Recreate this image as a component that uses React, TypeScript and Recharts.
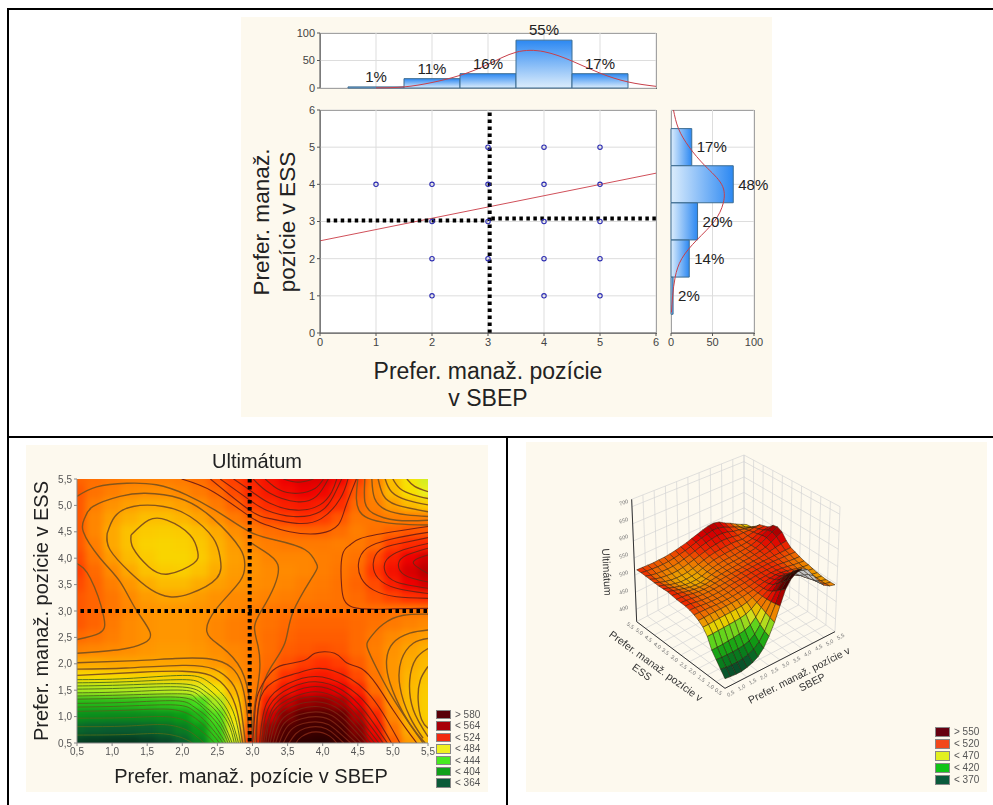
import React from "react";
import {
	Bar,
	CartesianGrid,
	ComposedChart,
	LabelList,
	Line,
	ReferenceLine,
	Scatter,
	ScatterChart,
	XAxis,
	YAxis,
	ZAxis,
} from "recharts";

const FONT = "'Liberation Sans', Arial, sans-serif";
const CREAM = "#fdf9ee";

// top histogram (SBEP)
const topBins = [1, 2, 3, 4, 5];
const topCounts = [2, 17, 26, 87, 26];
const topPct = ["1%", "11%", "16%", "55%", "17%"];
const topCurve = [
	{ x: 1, y: 0.3 }, { x: 1.5, y: 2 }, { x: 2, y: 10 }, { x: 2.5, y: 23 }, { x: 3, y: 43 },
	{ x: 3.5, y: 65 }, { x: 4, y: 66 }, { x: 4.5, y: 49 }, { x: 5, y: 27 },
	{ x: 5.5, y: 11 }, { x: 6, y: 3 },
];

// right histogram (ESS), top bin first
const sideBins = [5, 4, 3, 2, 1];
const sideCounts = [25, 75, 32, 22, 2.5];
const sidePct = ["17%", "48%", "20%", "14%", "2%"];
const sideCurve = [
	{ y: 0.55, v: 0.5 }, { y: 1, v: 2 }, { y: 1.5, v: 5 }, { y: 2, v: 13 }, { y: 2.5, v: 31 },
	{ y: 3, v: 52 }, { y: 3.5, v: 63 }, { y: 4, v: 61 }, { y: 4.5, v: 41 },
	{ y: 5, v: 22 }, { y: 5.5, v: 9 }, { y: 6, v: 3 },
];

// scatter answers
const answers = [
	[3, 5], [4, 5], [5, 5],
	[1, 4], [2, 4], [3, 4], [4, 4], [5, 4],
	[2, 3], [3, 3], [4, 3], [5, 3],
	[2, 2], [3, 2], [4, 2], [5, 2],
	[2, 1], [4, 1], [5, 1],
].map(([x, y]) => ({ x, y }));
const regression = [{ x: 0, y: 2.48 }, { x: 6, y: 4.3 }];
const axisTicks = [0, 1, 2, 3, 4, 5, 6];
const countTicks = [0, 50, 100];

// Ultimatum surface, rows from ESS 5.5 down to 0.5
const sbepLevels = [0.5, 0.75, 1, 1.25, 1.5, 1.75, 2, 2.25, 2.5, 2.75, 3, 3.25, 3.5, 3.75, 4, 4.25, 4.5, 4.75, 5, 5.25, 5.5];
const essLevels = [5.5, 5.25, 5, 4.75, 4.5, 4.25, 4, 3.75, 3.5, 3.25, 3, 2.75, 2.5, 2.25, 2, 1.75, 1.5, 1.25, 1, 0.75, 0.5];
const ultimatum = [
	[516, 514, 512, 510, 510, 510, 511, 514, 518, 522, 528, 534, 540, 545, 545, 538, 522, 510, 495, 482, 470],
	[518, 513, 510, 507, 506, 506, 508, 511, 515, 520, 526, 532, 536, 540, 538, 530, 518, 508, 496, 484, 475],
	[518, 510, 505, 502, 500, 500, 502, 506, 511, 516, 522, 526, 530, 532, 530, 525, 515, 510, 502, 496, 490],
	[518, 508, 502, 498, 495, 495, 497, 501, 506, 511, 516, 520, 522, 524, 522, 518, 512, 512, 510, 510, 510],
	[518, 508, 500, 494, 491, 490, 491, 495, 500, 506, 511, 514, 515, 516, 516, 514, 510, 513, 516, 518, 518],
	[518, 510, 500, 494, 489, 488, 489, 492, 498, 503, 508, 510, 511, 511, 511, 510, 511, 515, 522, 526, 528],
	[520, 512, 503, 496, 491, 488, 488, 491, 497, 502, 505, 508, 508, 508, 510, 511, 513, 520, 530, 540, 548],
	[522, 515, 507, 500, 494, 491, 490, 494, 499, 503, 505, 507, 507, 508, 510, 512, 515, 523, 534, 546, 555],
	[520, 516, 510, 504, 499, 496, 496, 499, 502, 504, 506, 507, 508, 510, 511, 513, 516, 520, 530, 540, 548],
	[518, 516, 512, 507, 503, 501, 501, 503, 505, 507, 508, 509, 510, 511, 512, 513, 515, 518, 521, 524, 526],
	[518, 516, 512, 508, 505, 504, 504, 505, 506, 508, 510, 512, 513, 514, 514, 514, 514, 514, 513, 512, 512],
	[518, 516, 511, 507, 505, 504, 504, 505, 508, 510, 511, 513, 515, 516, 516, 516, 515, 513, 511, 509, 507],
	[515, 513, 510, 507, 505, 504, 504, 505, 508, 510, 511, 514, 516, 517, 517, 517, 515, 511, 507, 504, 502],
	[509, 508, 507, 506, 504, 503, 503, 504, 506, 508, 510, 514, 517, 518, 519, 518, 515, 510, 505, 501, 498],
	[500, 500, 501, 501, 501, 501, 501, 502, 504, 507, 510, 515, 519, 522, 524, 522, 517, 511, 504, 499, 496],
	[486, 486, 487, 488, 489, 489, 490, 491, 495, 503, 510, 517, 524, 530, 532, 529, 520, 512, 504, 497, 493],
	[462, 462, 463, 464, 465, 466, 468, 472, 482, 497, 510, 522, 534, 542, 546, 541, 528, 514, 504, 496, 491],
	[420, 420, 421, 423, 425, 428, 432, 442, 462, 490, 512, 532, 552, 564, 568, 560, 540, 520, 505, 496, 490],
	[395, 393, 392, 392, 393, 396, 402, 418, 445, 482, 515, 548, 572, 586, 592, 582, 556, 528, 508, 497, 490],
	[370, 366, 364, 364, 366, 372, 382, 400, 432, 475, 520, 565, 592, 608, 612, 600, 570, 537, 513, 499, 493],
	[345, 342, 340, 340, 345, 352, 365, 388, 425, 470, 525, 580, 610, 625, 630, 615, 580, 545, 517, 503, 496],
];

const colorStops: [number, number[]][] = [
	[335, [4, 48, 28]], [364, [10, 92, 48]], [404, [10, 158, 20]], [444, [73, 224, 30]],
	[474, [232, 240, 32]], [484, [248, 224, 0]], [495, [252, 190, 0]], [505, [255, 146, 0]],
	[515, [255, 106, 0]], [524, [255, 48, 0]], [540, [238, 0, 0]], [564, [154, 0, 0]],
	[585, [86, 0, 0]], [630, [42, 0, 0]],
];

function colorFor(z: number) {
	if (z <= colorStops[0][0]) return `rgb(${colorStops[0][1].join(",")})`;
	for (let i = 1; i < colorStops.length; i++) {
		const [hi, c1] = colorStops[i];
		const [lo, c0] = colorStops[i - 1];
		if (z <= hi) {
			const t = (z - lo) / (hi - lo);
			return `rgb(${c0.map((c, k) => Math.round(c + (c1[k] - c) * t)).join(",")})`;
		}
	}
	return "rgb(42,0,0)";
}

// contour lines, [SBEP, ESS]
const warmContours = [
	[[1.27, 4.44], [1.52, 4.72], [1.78, 4.72], [2.11, 4.44], [2.22, 4.12], [2.16, 3.9], [1.8, 3.7], [1.52, 3.84], [1.3, 4.19], [1.27, 4.44]],
	[[0.93, 4.47], [1.04, 4.79], [1.3, 4.98], [1.73, 4.98], [2.11, 4.79], [2.44, 4.38], [2.54, 4], [2.49, 3.62], [2.11, 3.33], [1.82, 3.27], [1.56, 3.4], [1.25, 3.74], [0.97, 4.16], [0.93, 4.47]],
	[[0.5, 2.2], [1.12, 2.27], [1.45, 2.39], [1.54, 2.6], [1.33, 3.05], [1.11, 3.56], [0.83, 4], [0.59, 4.5], [0.61, 4.76], [0.73, 4.98], [1.11, 5.17], [1.47, 5.23], [1.97, 5.13], [2.44, 4.75], [2.82, 4.19], [2.89, 3.87], [2.82, 3.56], [2.49, 3.05], [2.35, 2.61], [2.55, 2.33], [2.84, 1.89], [2.97, 1.2], [3, 0.5]],
	[[0.5, 3.9], [0.69, 3.62], [0.88, 2.9], [0.82, 2.58], [0.5, 2.46]],
	[[0.5, 5.17], [0.78, 5.35], [1.21, 5.42], [1.63, 5.39], [2.06, 5.2], [2.54, 4.85], [2.96, 4.5], [3.34, 4.34], [3.75, 4.16], [3.91, 3.9], [3.87, 3.68], [3.58, 2.99], [3.46, 2.39], [3.25, 1.91], [3.11, 1.38], [3.03, 0.5]],
	[[2.98, 4.29], [3.17, 4.13], [3.36, 3.88], [3.31, 3.47], [3.15, 3.06], [3.03, 2.71], [3.08, 2.33], [3.1, 1.83], [3.03, 1.19], [3, 0.56]],
	[[5.5, 2.94], [5.15, 2.92], [4.86, 2.75], [4.67, 2.48], [4.64, 2.29], [4.77, 1.91], [4.96, 1.44], [5.2, 0.94], [5.43, 0.5]],
	[[5.5, 2.64], [5.24, 2.58], [5, 2.39], [4.91, 2.07], [4.96, 1.63], [5.15, 1.06], [5.34, 0.68], [5.46, 0.5]],
	[[5.5, 2.48], [5.29, 2.39], [5.12, 2.07], [5.1, 1.57], [5.24, 1], [5.43, 0.59]],
	[[5.5, 2.29], [5.33, 2.1], [5.24, 1.69], [5.29, 1.13], [5.5, 0.62]],
	[[5.5, 1.95], [5.39, 1.69], [5.36, 1.31], [5.41, 0.94], [5.5, 0.78]],
	[[4.5, 5.5], [4.48, 5.13], [4.53, 4.88], [4.7, 4.73], [5.05, 4.65], [5.5, 4.63]],
	[[4.6, 5.5], [4.6, 5.07], [4.72, 4.85], [5.05, 4.72], [5.5, 4.72]],
	[[4.7, 5.5], [4.74, 5.13], [4.91, 4.91], [5.2, 4.82], [5.5, 4.79]],
	[[4.79, 5.5], [4.86, 5.2], [5.05, 5.01], [5.5, 4.88]],
	[[4.89, 5.5], [4.98, 5.26], [5.2, 5.1], [5.5, 5.01]],
	[[5, 5.5], [5.1, 5.32], [5.29, 5.2], [5.5, 5.13]],
	[[5.2, 5.5], [5.31, 5.36], [5.5, 5.26]],
	[[0.5, 2.02], [1.35, 2.06], [1.9, 2.1], [2.4, 2.09], [2.7, 1.93], [2.85, 1.6], [2.93, 1], [2.95, 0.5]],
	[[0.5, 1.9], [1.2, 1.92], [2, 1.97], [2.45, 1.9], [2.7, 1.65], [2.82, 1.25], [2.9, 0.5]],
	[[0.5, 1.78], [1.4, 1.84], [2, 1.86], [2.4, 1.78], [2.65, 1.5], [2.78, 1.1], [2.86, 0.5]],
];

const redContours = [
	[[1.99, 5.5], [2.44, 5.26], [2.96, 4.79], [3.2, 4.63], [3.53, 4.5], [3.96, 4.47], [4.22, 4.63], [4.32, 4.95], [4.48, 5.5]],
	[[2.4, 5.5], [2.96, 4.91], [3.25, 4.75], [3.63, 4.66], [3.98, 4.75], [4.25, 5.13], [4.36, 5.5]],
	[[2.54, 5.5], [2.96, 5.1], [3.2, 4.91], [3.58, 4.79], [3.96, 4.88], [4.15, 5.17], [4.27, 5.5]],
	[[2.73, 5.5], [2.96, 5.29], [3.25, 5.04], [3.63, 4.91], [3.96, 5.01], [4.13, 5.26], [4.2, 5.5]],
	[[3.01, 5.5], [3.25, 5.23], [3.63, 5.07], [3.91, 5.17], [4.08, 5.5]],
	[[3.18, 5.5], [3.39, 5.29], [3.65, 5.23], [3.89, 5.32], [4.01, 5.5]],
	[[3.44, 5.5], [3.65, 5.44], [3.87, 5.5]],
	[[5.5, 3.05], [5, 3.04], [4.43, 3.07], [4.27, 3.46], [4.28, 4.06], [4.39, 4.25], [4.53, 4.37], [5, 4.5], [5.5, 4.6]],
	[[5.5, 4.49], [5, 4.37], [4.63, 4.19], [4.51, 3.9], [4.55, 3.62], [4.72, 3.4], [5.05, 3.27], [5.5, 3.24]],
	[[5.5, 4.39], [5.1, 4.28], [4.82, 4.16], [4.72, 3.9], [4.79, 3.62], [5.05, 3.43], [5.5, 3.33]],
	[[5.5, 4.28], [5.15, 4.16], [4.91, 3.97], [4.89, 3.74], [5.05, 3.55], [5.5, 3.43]],
	[[5.5, 4.19], [5.2, 4.06], [5.08, 3.9], [5.17, 3.68], [5.5, 3.55]],
	[[5.5, 4.06], [5.29, 3.92], [5.5, 3.71]],
	[[3, 0.5], [3.03, 1], [3.08, 1.44], [3.25, 1.82], [3.44, 1.98], [3.75, 2.07], [3.89, 2.2], [4.17, 2.2], [4.34, 2.02], [4.55, 1.91], [4.77, 1.6], [5, 1.13], [5.2, 0.75], [5.34, 0.5]],
	[[3.06, 0.5], [3.12, 1.38], [3.39, 1.72], [3.63, 1.82], [3.89, 1.91], [4.15, 1.87], [4.39, 1.72], [4.63, 1.47], [4.86, 1.06], [5.1, 0.5]],
	[[3.1, 0.5], [3.2, 1.25], [3.5, 1.62], [3.9, 1.76], [4.3, 1.6], [4.65, 1.2], [4.98, 0.5]],
	[[3.13, 0.5], [3.24, 1.2], [3.55, 1.55], [3.9, 1.66], [4.28, 1.5], [4.6, 1.1], [4.92, 0.5]],
	[[3.16, 0.5], [3.28, 1.15], [3.55, 1.45], [3.9, 1.57], [4.25, 1.42], [4.55, 1.05], [4.86, 0.5]],
	[[3.19, 0.5], [3.3, 1.1], [3.6, 1.38], [3.9, 1.47], [4.22, 1.34], [4.5, 1], [4.8, 0.5]],
	[[3.22, 0.5], [3.34, 1.05], [3.6, 1.3], [3.9, 1.38], [4.2, 1.26], [4.46, 0.95], [4.74, 0.5]],
	[[3.25, 0.5], [3.37, 1], [3.62, 1.22], [3.9, 1.28], [4.18, 1.18], [4.42, 0.9], [4.68, 0.5]],
	[[3.29, 0.5], [3.41, 0.93], [3.65, 1.13], [3.9, 1.19], [4.15, 1.1], [4.38, 0.85], [4.62, 0.5]],
	[[3.33, 0.5], [3.45, 0.87], [3.67, 1.04], [3.9, 1.09], [4.13, 1.02], [4.33, 0.8], [4.55, 0.5]],
	[[3.38, 0.5], [3.5, 0.82], [3.7, 0.96], [3.9, 1], [4.1, 0.94], [4.28, 0.75], [4.48, 0.5]],
	[[3.44, 0.5], [3.55, 0.75], [3.72, 0.87], [3.9, 0.9], [4.08, 0.85], [4.23, 0.7], [4.4, 0.5]],
	[[3.52, 0.5], [3.62, 0.68], [3.75, 0.78], [3.9, 0.81], [4.05, 0.77], [4.18, 0.65], [4.3, 0.5]],
	[[3.62, 0.5], [3.7, 0.62], [3.9, 0.71], [4.1, 0.63], [4.2, 0.5]],
];

const greenContours = [
	[[0.5, 1.7], [1.2, 1.72], [2, 1.78], [2.35, 1.68], [2.6, 1.38], [2.75, 1], [2.83, 0.5]],
	[[0.5, 1.64], [1.2, 1.66], [2, 1.7], [2.3, 1.6], [2.55, 1.3], [2.7, 0.95], [2.8, 0.5]],
	[[0.5, 1.58], [1.2, 1.6], [2, 1.62], [2.3, 1.5], [2.5, 1.28], [2.68, 0.9], [2.77, 0.5]],
	[[0.5, 1.52], [1.2, 1.54], [2, 1.56], [2.3, 1.42], [2.47, 1.2], [2.65, 0.88], [2.74, 0.5]],
	[[0.5, 1.45], [1.2, 1.47], [2, 1.5], [2.25, 1.38], [2.45, 1.15], [2.6, 0.85], [2.71, 0.5]],
	[[0.5, 1.39], [1.2, 1.41], [2, 1.43], [2.2, 1.33], [2.42, 1.08], [2.58, 0.8], [2.68, 0.5]],
	[[0.5, 1.33], [1.2, 1.35], [1.9, 1.37], [2.2, 1.27], [2.38, 1.05], [2.55, 0.78], [2.65, 0.5]],
	[[0.5, 1.25], [1.2, 1.27], [1.9, 1.3], [2.15, 1.2], [2.35, 1], [2.5, 0.75], [2.62, 0.5]],
	[[0.5, 1.18], [1.2, 1.2], [1.9, 1.22], [2.15, 1.12], [2.3, 0.95], [2.47, 0.7], [2.58, 0.5]],
	[[0.5, 1.1], [1.2, 1.12], [1.8, 1.14], [2.1, 1.04], [2.27, 0.88], [2.42, 0.68], [2.53, 0.5]],
	[[0.5, 0.97], [1.2, 0.98], [1.75, 1], [2.05, 0.92], [2.22, 0.78], [2.37, 0.62], [2.46, 0.5]],
	[[0.5, 0.81], [1.2, 0.82], [1.7, 0.85], [2, 0.78], [2.17, 0.66], [2.31, 0.5]],
	[[0.5, 0.65], [1.2, 0.66], [1.65, 0.68], [1.95, 0.62], [2.15, 0.5]],
];

const mapTicks = [0.5, 1, 1.5, 2, 2.5, 3, 3.5, 4, 4.5, 5, 5.5];
const mapLegend = [
	["> 580", "#5a0008"], ["< 564", "#a80008"], ["< 524", "#f22a10"], ["< 484", "#f0f020"],
	["< 444", "#48ea20"], ["< 404", "#10a018"], ["< 364", "#0a5a38"],
];
const surfaceLegend = [
	["> 550", "#660010"], ["< 520", "#f2481a"], ["< 470", "#e2f020"], ["< 420", "#10c418"], ["< 370", "#0a5a3c"],
];
const zTicks = [400, 450, 500, 550, 600, 650, 700];

const heatCells = essLevels.flatMap((y, r) => sbepLevels.map((x, c) => ({ x, y, z: ultimatum[r][c] })));

const toLine = (pts: number[][]) => pts.map(([x, y]) => ({ x, y }));

// 3D view: picture plane is 840 x 810 units over 280 x 270 px
function project(x: number, y: number, z: number) {
	const u = (x - 0.5) / 5;
	const v = (y - 0.5) / 5;
	return [405 + 330 * u - 265 * v, 715 - 170 * u - 200 * v - (z - 306) * 0.74];
}

const faces: any[] = [];
for (let r = 0; r < essLevels.length - 1; r++) {
	for (let c = 0; c < sbepLevels.length - 1; c++) {
		const corners = [
			project(sbepLevels[c], essLevels[r + 1], ultimatum[r + 1][c]),
			project(sbepLevels[c + 1], essLevels[r + 1], ultimatum[r + 1][c + 1]),
			project(sbepLevels[c + 1], essLevels[r], ultimatum[r][c + 1]),
			project(sbepLevels[c], essLevels[r], ultimatum[r][c]),
		];
		let area = 0;
		corners.forEach((p, i) => {
			const q = corners[(i + 1) % 4];
			area += p[0] * q[1] - q[0] * p[1];
		});
		faces.push({
			x: corners[0][0],
			y: corners[0][1],
			corners,
			back: area > 0,
			depth: sbepLevels[c] + essLevels[r],
			z: (ultimatum[r][c] + ultimatum[r][c + 1] + ultimatum[r + 1][c] + ultimatum[r + 1][c + 1]) / 4,
		});
	}
}
faces.sort((a, b) => b.depth - a.depth);

const lerp = (a: number[], b: number[], t: number) => [a[0] + (b[0] - a[0]) * t, a[1] + (b[1] - a[1]) * t];
const baseL = [140, 515];
const baseB = [462, 345];
const baseR = [735, 545];
const baseF = [405, 715];
const topL = [125, 148];
const topB = [462, 15];
const topR = [750, 170];
const wallSteps = [0, 0.1, 0.2, 0.3, 0.4, 0.5, 0.6, 0.7, 0.8, 0.9, 1];
const heightSteps = [0.1, 0.24, 0.38, 0.52, 0.66, 0.8, 0.94, 1];

const wallSegments: number[][][] = [];
wallSteps.forEach((t) => {
	wallSegments.push([lerp(baseL, baseB, t), lerp(topL, topB, t)]);
	wallSegments.push([lerp(baseB, baseR, t), lerp(topB, topR, t)]);
	wallSegments.push([lerp(baseL, baseF, t), lerp(baseB, baseR, t)]);
	wallSegments.push([lerp(baseF, baseR, t), lerp(baseL, baseB, t)]);
});
heightSteps.forEach((h) => {
	wallSegments.push([lerp(baseL, topL, h), lerp(baseB, topB, h)]);
	wallSegments.push([lerp(baseB, topB, h), lerp(baseR, topR, h)]);
});

const edgeSegments = [
	[baseL, baseF],
	[baseF, baseR],
	[baseL, topL],
];

const asSegment = (s: number[][]) => [{ x: s[0][0], y: s[0][1] }, { x: s[1][0], y: s[1][1] }];

const Frame = ({ left, top, width, height }: any) => (
	<div style={{ position: "absolute", left, top, width, height, background: "#fff", border: "1px solid #666", boxSizing: "border-box" }} />
);

const Caption = ({ x, y, size, color = "#222", rotate = 0, children }: any) => (
	<div
		style={{
			position: "absolute",
			left: x,
			top: y,
			fontSize: size,
			color,
			fontFamily: FONT,
			whiteSpace: "nowrap",
			lineHeight: 1,
			transform: `translate(-50%, -50%) rotate(${rotate}deg)`,
		}}
	>
		{children}
	</div>
);

const Legend = ({ items, left, top, step, size }: any) => (
	<>
		{items.map(([label, color]: string[], i: number) => (
			<React.Fragment key={label}>
				<div style={{ position: "absolute", left, top: top + i * step, width: 15, height: step - 2, background: color, border: "1px solid #888", boxSizing: "border-box" }} />
				<div style={{ position: "absolute", left: left + 19, top: top + i * step - 1, fontSize: size, lineHeight: `${step}px`, color: "#555", fontFamily: FONT, whiteSpace: "nowrap" }}>
					{label}
				</div>
			</React.Fragment>
		))}
	</>
);

const tickStyle = { fontSize: 11, fill: "#444", fontFamily: FONT };
const pctStyle = { fontSize: 15, fill: "#222", fontFamily: FONT };

function TopHistogram() {
	const data = topBins.map((x, i) => ({ x, count: topCounts[i], pct: topPct[i] }));
	return (
		<ComposedChart width={376} height={78} data={data} barCategoryGap={0} margin={{ top: 13, right: 10, bottom: 10, left: 0 }}>
			<defs>
				<linearGradient id="topFill" x1="0" y1="0" x2="0" y2="1">
					<stop offset="0%" stopColor="#2c88f2" />
					<stop offset="100%" stopColor="#dcedfc" />
				</linearGradient>
			</defs>
			<CartesianGrid stroke="#ddd" />
			<XAxis dataKey="x" padding={{ left: 28, right: 28 }} hide />
			<XAxis xAxisId="curve" type="number" dataKey="x" domain={[0, 6]} hide />
			<YAxis type="number" domain={[0, 100]} ticks={countTicks} width={30} tickSize={3} tick={tickStyle} stroke="#555" interval={0} />
			<Bar dataKey="count" fill="url(#topFill)" stroke="#3d6d92" isAnimationActive={false}>
				<LabelList dataKey="pct" position="top" style={pctStyle} />
			</Bar>
			<Line xAxisId="curve" data={topCurve} dataKey="y" type="natural" stroke="#c8404a" strokeWidth={1} dot={false} isAnimationActive={false} />
		</ComposedChart>
	);
}

function SideHistogram() {
	const data = sideBins.map((y, i) => ({ y, v: sideCounts[i], pct: sidePct[i] }));
	return (
		<ComposedChart layout="vertical" width={110} height={263} data={data} barCategoryGap={0} margin={{ top: 10, right: 16, bottom: 10, left: 11 }}>
			<defs>
				<linearGradient id="sideFill" x1="0" y1="0" x2="1" y2="0">
					<stop offset="0%" stopColor="#dcedfc" />
					<stop offset="100%" stopColor="#2c88f2" />
				</linearGradient>
			</defs>
			<CartesianGrid stroke="#ddd" />
			<XAxis type="number" domain={[0, 100]} ticks={countTicks} height={20} tickSize={3} tick={tickStyle} stroke="#555" interval={0} />
			<YAxis type="category" dataKey="y" padding={{ top: 18.6, bottom: 18.6 }} hide />
			<YAxis yAxisId="curve" type="number" dataKey="y" domain={[0, 6]} reversed hide />
			<Bar dataKey="v" fill="url(#sideFill)" stroke="#3d6d92" isAnimationActive={false}>
				<LabelList dataKey="pct" position="right" style={pctStyle} />
			</Bar>
			<Line yAxisId="curve" data={sideCurve} dataKey="v" type="natural" stroke="#c8404a" strokeWidth={1} dot={false} isAnimationActive={false} />
		</ComposedChart>
	);
}

const Ring = (props: any) => <circle cx={props.cx} cy={props.cy} r={2.2} fill="none" stroke="#2a2ab0" strokeWidth={1.1} />;

function MainScatter() {
	return (
		<ScatterChart width={376} height={263} margin={{ top: 10, right: 10, bottom: 10, left: 0 }}>
			<CartesianGrid stroke="#ddd" />
			<XAxis type="number" dataKey="x" domain={[0, 6]} ticks={axisTicks} height={20} tickSize={3} tick={tickStyle} stroke="#555" interval={0} />
			<YAxis type="number" dataKey="y" domain={[0, 6]} ticks={axisTicks} width={30} tickSize={3} tick={tickStyle} stroke="#555" interval={0} />
			<ZAxis range={[16, 16]} />
			<ReferenceLine segment={regression} stroke="#d0505a" strokeWidth={1} />
			<Scatter data={answers} shape={Ring} isAnimationActive={false} />
			<ReferenceLine segment={[{ x: 3.03, y: 0 }, { x: 3.03, y: 5.95 }]} stroke="#000" strokeWidth={4} strokeDasharray="3.5 3.5" />
			<ReferenceLine segment={[{ x: 0.12, y: 3.03 }, { x: 3, y: 3.03 }]} stroke="#000" strokeWidth={4} strokeDasharray="3.5 3.5" />
			<ReferenceLine segment={[{ x: 3.06, y: 3.08 }, { x: 6, y: 3.08 }]} stroke="#000" strokeWidth={4} strokeDasharray="3.5 3.5" />
		</ScatterChart>
	);
}

const CELL_W = 351 / 20 + 1;
const CELL_H = 264 / 20 + 1;
const HeatCell = (props: any) => (
	<rect x={props.cx - CELL_W / 2} y={props.cy - CELL_H / 2} width={CELL_W} height={CELL_H} fill={colorFor(props.payload.z)} />
);

function HeatMap() {
	return (
		<div style={{ position: "absolute", left: 77, top: 479, width: 351, height: 264, overflow: "hidden" }}>
			<div style={{ position: "absolute", left: -20, top: -20, filter: "blur(3px)" }}>
				<ScatterChart width={391} height={304} margin={{ top: 20, right: 20, bottom: 20, left: 20 }}>
					<XAxis type="number" dataKey="x" domain={[0.5, 5.5]} hide />
					<YAxis type="number" dataKey="y" domain={[0.5, 5.5]} hide />
					<ZAxis range={[100, 100]} />
					<Scatter data={heatCells} shape={HeatCell} isAnimationActive={false} />
				</ScatterChart>
			</div>
		</div>
	);
}

const contourLine = (pts: number[][], key: string, stroke: string, width: number) => (
	<Line key={key} data={toLine(pts)} dataKey="y" type="natural" stroke={stroke} strokeWidth={width} dot={false} isAnimationActive={false} />
);

function ContourLines() {
	const fmt = (v: number) => v.toFixed(1).replace(".", ",");
	const tick = { fontSize: 10, fill: "#555", fontFamily: FONT };
	return (
		<ComposedChart width={391} height={294} margin={{ top: 10, right: 10, bottom: 0, left: 0 }}>
			<XAxis type="number" dataKey="x" domain={[0.5, 5.5]} ticks={mapTicks} tickFormatter={fmt} height={20} tickSize={3} tick={tick} stroke="#888" interval={0} allowDataOverflow />
			<YAxis type="number" domain={[0.5, 5.5]} ticks={mapTicks} tickFormatter={fmt} width={30} tickSize={3} tick={tick} stroke="#888" interval={0} allowDataOverflow />
			{warmContours.map((pts, i) => contourLine(pts, `w${i}`, "#85551a", 1.4))}
			{redContours.map((pts, i) => contourLine(pts, `r${i}`, "#7a2212", 1.1))}
			{greenContours.map((pts, i) => contourLine(pts, `g${i}`, "#4c6a1a", 0.9))}
			<ReferenceLine segment={[{ x: 2.96, y: 5.5 }, { x: 2.96, y: 0.5 }]} stroke="#000" strokeWidth={4} strokeDasharray="3.5 3.5" />
			<ReferenceLine segment={[{ x: 0.55, y: 3 }, { x: 5.5, y: 3 }]} stroke="#000" strokeWidth={4} strokeDasharray="3.5 3.5" />
		</ComposedChart>
	);
}

const SurfaceFace = (props: any) => {
	const { cx, cy, payload } = props;
	const points = payload.corners.map((p: number[]) => `${cx + (p[0] - payload.x) / 3},${cy + (p[1] - payload.y) / 3}`).join(" ");
	return (
		<polygon
			points={points}
			fill={payload.back ? "#d4d4d4" : colorFor(payload.z + 8)}
			stroke={payload.back ? "#333" : "#2c1c08"}
			strokeWidth={0.6}
			strokeOpacity={0.85}
		/>
	);
};

const NoMark = () => null;

function Surface() {
	const axes = [
		<XAxis key="x" type="number" dataKey="x" domain={[0, 840]} hide />,
		<YAxis key="y" type="number" dataKey="y" domain={[0, 810]} reversed hide />,
	];
	return (
		<div style={{ position: "absolute", left: 590, top: 450, width: 280, height: 270 }}>
			<div style={{ position: "absolute", left: 0, top: 0 }}>
				<ScatterChart width={280} height={270} margin={{ top: 0, right: 0, bottom: 0, left: 0 }}>
					{axes}
					<ZAxis range={[10, 10]} />
					<Scatter data={asSegment([baseF, topB])} shape={NoMark} isAnimationActive={false} />
					{wallSegments.map((s, i) => (
						<ReferenceLine key={i} segment={asSegment(s)} stroke="#d4d4d4" strokeWidth={0.7} />
					))}
					{edgeSegments.map((s, i) => (
						<ReferenceLine key={`edge${i}`} segment={asSegment(s)} stroke="#333" strokeWidth={1} />
					))}
				</ScatterChart>
			</div>
			<div style={{ position: "absolute", left: 0, top: 0, filter: "brightness(0.93)" }}>
				<ScatterChart width={280} height={270} margin={{ top: 0, right: 0, bottom: 0, left: 0 }}>
					{axes}
					<ZAxis range={[10, 10]} />
					<Scatter data={faces} shape={SurfaceFace} isAnimationActive={false} />
				</ScatterChart>
			</div>
		</div>
	);
}

const sbepLabels = mapTicks.map((v, i) => ({ v, p: lerp(baseF, baseR, i / 10) }));
const essLabels = mapTicks.map((v, i) => ({ v, p: lerp(baseF, baseL, i / 10) }));

function SurfaceLabels() {
	const fmt = (v: number) => v.toFixed(1).replace(".", ",");
	return (
		<>
			{sbepLabels.map(({ v, p }) => (
				<Caption key={`s${v}`} x={590 + (p[0] + 18) / 3} y={450 + (p[1] + 16) / 3} size={5.5} color="#777" rotate={-30}>
					{fmt(v)}
				</Caption>
			))}
			{essLabels.map(({ v, p }) => (
				<Caption key={`e${v}`} x={590 + (p[0] - 20) / 3} y={450 + (p[1] + 12) / 3} size={5.5} color="#777" rotate={36}>
					{fmt(v)}
				</Caption>
			))}
			{zTicks.map((v, i) => (
				<Caption key={`z${v}`} x={624} y={450 + (478 - i * 53.3) / 3} size={5.5} color="#777" rotate={-20}>
					{v}
				</Caption>
			))}
			<Caption x={607} y={572} size={10.5} color="#333" rotate={87}>Ultimátum</Caption>
			<Caption x={656} y={666} size={10.5} color="#333" rotate={36}>Prefer. manaž. pozície v</Caption>
			<Caption x={642} y={672} size={10.5} color="#333" rotate={36}>ESS</Caption>
			<Caption x={799} y={675} size={10.5} color="#333" rotate={-27}>Prefer. manaž. pozície v</Caption>
			<Caption x={812} y={682} size={10.5} color="#333" rotate={-27}>SBEP</Caption>
		</>
	);
}

const lineStyle = (left: number, top: number, width: number, height: number): React.CSSProperties => ({
	position: "absolute",
	left,
	top,
	width,
	height,
	background: "#000",
});

export default function App() {
	return (
		<div style={{ position: "fixed", left: 0, top: 0, width: 993, height: 805, overflow: "hidden", background: "#fff" }}>
			<div style={{ position: "absolute", left: 0, top: 0, width: 993, height: 805, filter: "blur(0.4px)" }}>
				<div style={{ position: "absolute", left: 241, top: 17, width: 531, height: 400, background: CREAM }} />
				<div style={{ position: "absolute", left: 26, top: 445, width: 462, height: 347, background: CREAM }} />
				<div style={{ position: "absolute", left: 526, top: 442, width: 461, height: 350, background: CREAM }} />

				<Frame left={320} top={33} width={337} height={56} />
				<Frame left={320} top={110} width={337} height={224} />
				<Frame left={671} top={110} width={84} height={224} />
				<div style={{ position: "absolute", left: 290, top: 20 }}><TopHistogram /></div>
				<div style={{ position: "absolute", left: 290, top: 100 }}><MainScatter /></div>
				<div style={{ position: "absolute", left: 660, top: 100 }}><SideHistogram /></div>
				<Caption x={262} y={222} size={22.6} rotate={-90}>Prefer. manaž.</Caption>
				<Caption x={288} y={222} size={22.6} rotate={-90}>pozície v ESS</Caption>
				<Caption x={488} y={371} size={23}>Prefer. manaž. pozície</Caption>
				<Caption x={488} y={398} size={23}>v SBEP</Caption>

				<HeatMap />
				<div style={{ position: "absolute", left: 47, top: 469 }}><ContourLines /></div>
				<Caption x={257} y={461} size={20}>Ultimátum</Caption>
				<Caption x={41} y={611} size={20} rotate={-90}>Prefer. manaž. pozície v ESS</Caption>
				<Caption x={251} y={776} size={20}>Prefer. manaž. pozície v SBEP</Caption>
				<Legend items={mapLegend} left={436} top={710} step={11.4} size={10} />

				<Surface />
				<SurfaceLabels />
				<Legend items={surfaceLegend} left={935} top={727} step={12} size={10} />
			</div>
			<div style={lineStyle(7, 8, 986, 2)} />
			<div style={lineStyle(7, 8, 2, 797)} />
			<div style={lineStyle(7, 436, 986, 2)} />
			<div style={lineStyle(506, 436, 2, 369)} />
		</div>
	);
}
